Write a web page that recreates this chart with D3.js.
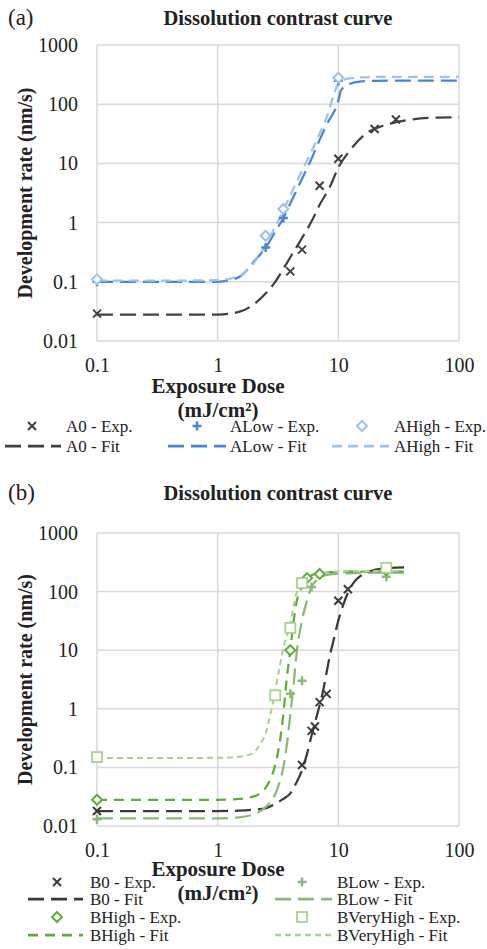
<!DOCTYPE html>
<html>
<head>
<meta charset="utf-8">
<script src="https://cdn.jsdelivr.net/npm/d3@7"></script>
<style>
  body { margin: 0; background: #fff; }
</style>
</head>
<body>
<div id="chart"></div>
<script>
// ticks
var xTicks = [0.1, 1, 10, 100];
var yTicks = [0.01, 0.1, 1, 10, 100, 1000];

// ---- panel (a) data ----
var a0ExpDose = [0.1, 4, 5, 7, 10, 20, 30];
var a0ExpRate = [0.029, 0.15, 0.35, 4.2, 12, 38, 55];
var a0FitDose = [0.1, 0.5, 1, 1.5, 2, 3, 4, 5, 6, 7, 8.5, 10, 12.6, 17, 25, 40, 60, 100];
var a0FitRate = [0.028, 0.028, 0.028, 0.031, 0.042, 0.1, 0.26, 0.55, 1.05, 2.0, 4.0, 8.5, 17, 32, 45, 55, 59, 60];

var aLowExpDose = [0.1, 2.5, 3.5, 10];
var aLowExpRate = [0.1, 0.38, 1.2, 250];
var aLowFitDose = [0.1, 0.5, 1, 1.5, 2, 2.5, 3, 3.5, 4, 5, 6, 7, 8, 10, 10.5, 12, 15, 20, 40, 100];
var aLowFitRate = [0.1, 0.1, 0.1, 0.12, 0.22, 0.38, 0.7, 1.2, 2.1, 5.5, 12, 25, 45, 115, 170, 215, 240, 248, 250, 250];

var aHighExpDose = [0.1, 2.5, 3.5, 10];
var aHighExpRate = [0.11, 0.6, 1.7, 280];
var aHighFitDose = [0.1, 0.5, 1, 1.5, 2, 2.5, 3, 3.5, 4, 5, 6, 7, 8, 10, 12, 15, 20, 40, 100];
var aHighFitRate = [0.105, 0.105, 0.107, 0.125, 0.21, 0.42, 0.85, 1.6, 2.9, 7.5, 16, 32, 60, 220, 270, 283, 288, 290, 290];

// ---- panel (b) data ----
var b0ExpDose = [0.1, 5, 6, 6.4, 7, 8, 10, 12, 25];
var b0ExpRate = [0.018, 0.11, 0.42, 0.5, 1.3, 1.8, 70, 110, 250];
var b0FitDose = [0.1, 0.5, 1, 1.5, 2, 2.5, 3, 3.5, 4, 4.5, 5, 5.5, 6, 6.5, 7, 7.5, 8, 8.5, 9, 10, 11, 12, 13.5, 15, 17, 20, 25, 35];
var b0FitRate = [0.018, 0.018, 0.018, 0.0183, 0.019, 0.02, 0.024, 0.029, 0.036, 0.055, 0.09, 0.17, 0.35, 0.65, 1.15, 2.1, 4.2, 8, 13, 32, 60, 95, 145, 180, 205, 235, 252, 260];

var bLowExpDose = [0.1, 4, 5, 6, 25];
var bLowExpRate = [0.013, 1.8, 3, 120, 180];
var bLowFitDose = [0.1, 0.5, 1, 1.5, 2, 2.5, 3, 3.25, 3.5, 3.75, 4, 4.25, 4.5, 5, 5.5, 6, 7, 8, 10, 15, 20, 35];
var bLowFitRate = [0.0135, 0.0135, 0.0135, 0.014, 0.016, 0.021, 0.035, 0.055, 0.1, 0.25, 0.8, 2.5, 8.5, 32, 70, 120, 170, 192, 203, 208, 210, 210];

var bHighExpDose = [0.1, 4, 5.5, 7, 25];
var bHighExpRate = [0.028, 10, 170, 200, 230];
var bHighFitDose = [0.1, 0.5, 1, 1.5, 2, 2.5, 2.75, 3, 3.25, 3.5, 3.75, 4, 4.25, 4.5, 5, 5.5, 6, 7, 8, 10, 15, 20, 35];
var bHighFitRate = [0.028, 0.028, 0.028, 0.029, 0.032, 0.045, 0.065, 0.11, 0.25, 0.8, 3.5, 10, 30, 65, 120, 165, 190, 208, 214, 218, 220, 220, 220];

var bVeryHighExpDose = [0.1, 3, 4, 5, 25];
var bVeryHighExpRate = [0.15, 1.7, 24, 140, 255];
var bVeryHighFitDose = [0.1, 0.5, 1, 1.5, 2, 2.25, 2.5, 2.75, 3, 3.25, 3.5, 4, 4.5, 5, 6, 8, 10, 15, 20, 35];
var bVeryHighFitRate = [0.145, 0.145, 0.146, 0.152, 0.18, 0.25, 0.38, 0.85, 2, 5, 11, 28, 95, 140, 190, 212, 220, 225, 225, 225];

var FONT = "'Liberation Serif', 'Times New Roman', 'DejaVu Serif', serif";
var W = 487, H = 949;
var svg = d3.select("#chart").append("svg")
  .attr("width", W).attr("height", H)
  .style("font-family", FONT);

function txt(parent, x, y, size, str) {
  return parent.append("text").attr("x", x).attr("y", y)
    .style("font-family", FONT).style("font-size", size + "px")
    .attr("fill", "#222").text(str);
}

function zip(xs, ys) { return xs.map(function(x, i) { return [x, ys[i]]; }); }

function marker(g, type, color) {
  if (type === "x") {
    g.append("path").attr("d", "M-4,-4L4,4M-4,4L4,-4")
      .attr("stroke", color).attr("stroke-width", 2).attr("fill", "none");
  } else if (type === "plus") {
    g.append("path").attr("d", "M-4.5,0L4.5,0M0,-4.5L0,4.5")
      .attr("stroke", color).attr("stroke-width", 2.5).attr("fill", "none");
  } else if (type === "diamond") {
    g.append("path").attr("d", "M0,-5L5,0L0,5L-5,0Z")
      .attr("stroke", color).attr("stroke-width", 2).attr("fill", "#fff");
  } else if (type === "square") {
    g.append("rect").attr("x", -5).attr("y", -5).attr("width", 10).attr("height", 10)
      .attr("stroke", color).attr("stroke-width", 1.8).attr("fill", "#fff");
  }
}

function drawPanel(cfg) {
  var x = d3.scaleLog().domain([0.1, 100]).range([97, 459]);
  var y = d3.scaleLog().domain([0.01, 1000]).range([cfg.bottom, cfg.top]);
  var g = svg.append("g");

  // panel letter + title
  txt(g, 8, cfg.titleY + 7, 23, cfg.letter);
  txt(g, 278, cfg.titleY + 7, 20.5, "Dissolution contrast curve")
    .attr("text-anchor", "middle").style("font-weight", "bold");

  // grid
  g.append("g").selectAll("line").data(xTicks).enter().append("line")
    .attr("x1", function(d) { return x(d); }).attr("x2", function(d) { return x(d); })
    .attr("y1", cfg.top).attr("y2", cfg.bottom)
    .attr("stroke", "#d9d9d9").attr("stroke-width", 1.5);
  g.append("g").selectAll("line").data(yTicks).enter().append("line")
    .attr("y1", function(d) { return y(d); }).attr("y2", function(d) { return y(d); })
    .attr("x1", 97).attr("x2", 459)
    .attr("stroke", "#d9d9d9").attr("stroke-width", 1.5);

  // axes (labels only)
  var xa = g.append("g").attr("transform", "translate(0," + cfg.bottom + ")")
    .call(d3.axisBottom(x).tickValues(xTicks).tickFormat(d3.format("~g")).tickSize(0).tickPadding(17));
  xa.select(".domain").remove();
  xa.attr("font-family", null).attr("font-size", null);
  xa.selectAll("text").style("font-size", "20px").style("font-family", FONT).attr("fill", "#222");
  var ya = g.append("g").attr("transform", "translate(97,0)")
    .call(d3.axisLeft(y).tickValues(yTicks).tickFormat(d3.format("~g")).tickSize(0).tickPadding(19));
  ya.select(".domain").remove();
  ya.attr("font-family", null).attr("font-size", null);
  ya.selectAll("text").style("font-size", "20px").style("font-family", FONT).attr("fill", "#222");

  // axis titles
  txt(g, 218, cfg.xLabY, 21, "Exposure Dose").attr("text-anchor", "middle").style("font-weight", "bold");
  txt(g, 218, cfg.xLabY + 24, 21, "(mJ/cm²)").attr("text-anchor", "middle").style("font-weight", "bold");
  txt(g, 0, 0, 20, "Development rate (nm/s)")
    .attr("transform", "translate(32," + ((cfg.top + cfg.bottom) / 2) + ") rotate(-90)")
    .attr("text-anchor", "middle").style("font-weight", "bold");

  var line = d3.line().x(function(d) { return x(d[0]); }).y(function(d) { return y(d[1]); })
    .curve(d3.curveMonotoneX);

  cfg.series.forEach(function(s) {
    g.append("path").datum(zip(s.fitDose, s.fitRate)).attr("d", line)
      .attr("fill", "none").attr("stroke", s.color).attr("stroke-width", s.width)
      .attr("stroke-dasharray", s.dash);
  });
  cfg.series.forEach(function(s) {
    zip(s.expDose, s.expRate).forEach(function(p) {
      marker(g.append("g").attr("transform", "translate(" + x(p[0]) + "," + y(p[1]) + ")"), s.marker, s.color);
    });
  });

  // legend
  cfg.series.forEach(function(s, i) {
    var L = cfg.legend[i];
    marker(svg.append("g").attr("transform", "translate(" + L.mx + "," + L.ey + ")"), s.marker, s.color);
    txt(svg, L.tx, L.ey + 6, 17, s.name + " - Exp.");
    svg.append("line").attr("x1", L.l1).attr("x2", L.l2).attr("y1", L.fy).attr("y2", L.fy)
      .attr("stroke", s.color).attr("stroke-width", s.width + 0.5).attr("stroke-dasharray", s.dash);
    txt(svg, L.tx, L.fy + 6, 17, s.name + " - Fit");
  });
}

drawPanel({
  letter: "(a)", titleY: 18, top: 45, bottom: 341, xLabY: 393,
  series: [
    { name: "A0", marker: "x", color: "#404040", width: 2.25, dash: "16,7",
      expDose: a0ExpDose, expRate: a0ExpRate, fitDose: a0FitDose, fitRate: a0FitRate },
    { name: "ALow", marker: "plus", color: "#4a86cf", width: 2.25, dash: "16,7",
      expDose: aLowExpDose, expRate: aLowExpRate, fitDose: aLowFitDose, fitRate: aLowFitRate },
    { name: "AHigh", marker: "diamond", color: "#9dc3e6", width: 2.25, dash: "10,6",
      expDose: aHighExpDose, expRate: aHighExpRate, fitDose: aHighFitDose, fitRate: aHighFitRate }
  ],
  legend: [
    { mx: 32, tx: 66, l1: 5, l2: 61, ey: 426, fy: 446 },
    { mx: 197, tx: 230, l1: 168, l2: 226, ey: 426, fy: 446 },
    { mx: 362, tx: 394, l1: 332, l2: 389, ey: 426, fy: 446 }
  ]
});

drawPanel({
  letter: "(b)", titleY: 493, top: 533, bottom: 826, xLabY: 876,
  series: [
    { name: "B0", marker: "x", color: "#3a3a3a", width: 2.25, dash: "16,7",
      expDose: b0ExpDose, expRate: b0ExpRate, fitDose: b0FitDose, fitRate: b0FitRate },
    { name: "BLow", marker: "plus", color: "#8cb87a", width: 2.25, dash: "16,7",
      expDose: bLowExpDose, expRate: bLowExpRate, fitDose: bLowFitDose, fitRate: bLowFitRate },
    { name: "BHigh", marker: "diamond", color: "#5fab3c", width: 2.25, dash: "10,7",
      expDose: bHighExpDose, expRate: bHighExpRate, fitDose: bHighFitDose, fitRate: bHighFitRate },
    { name: "BVeryHigh", marker: "square", color: "#a9d18e", width: 2, dash: "6,4",
      expDose: bVeryHighExpDose, expRate: bVeryHighExpRate, fitDose: bVeryHighFitDose, fitRate: bVeryHighFitRate }
  ],
  legend: [
    { mx: 57, tx: 90, l1: 28, l2: 83, ey: 882, fy: 899 },
    { mx: 302, tx: 337, l1: 275, l2: 332, ey: 882, fy: 899 },
    { mx: 57, tx: 90, l1: 28, l2: 83, ey: 917, fy: 935 },
    { mx: 302, tx: 337, l1: 275, l2: 332, ey: 917, fy: 935 }
  ]
});
</script>
</body>
</html>
